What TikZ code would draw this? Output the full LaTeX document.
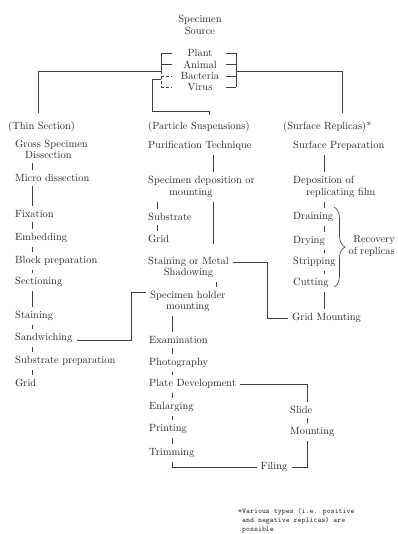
\documentclass[tikz,border=0pt]{standalone}
\usepackage{tikz}
\usetikzlibrary{positioning, calc, decorations.pathreplacing}

\begin{document}
\begin{tikzpicture}[
        x=1bp, y=-1bp,
        txt/.style={anchor=west, align=left, inner sep=1pt, font=\fontsize{10.5}{11.5}\selectfont, text=black!85},
        ctxt/.style={txt, anchor=center, align=center},
        wire/.style={draw=black!75, line width=0.6pt},
        link/.style={wire, shorten <=3bp, shorten >=3bp}
    ]
    \useasboundingbox (0,0) rectangle (397,534);

    % specimen source
    \node[ctxt] (source) at (200,25) {Specimen\\Source};
    \node[ctxt] (plant) at (200,53) {Plant};
    \node[ctxt] (animal) at (200,64.5) {Animal};
    \node[ctxt] (bacteria) at (200,76) {Bacteria};
    \node[ctxt] (virus) at (200,87.5) {Virus};

    \coordinate (lb) at (161,0);
    \coordinate (lt) at (172,0);
    \coordinate (rb) at (236,0);
    \coordinate (rt) at (226,0);
    \coordinate (lj) at (161,71);
    \coordinate (mj) at (152,79);
    \coordinate (mk) at (152,111);
    \coordinate (rj) at (236,71);

    \draw[wire] (plant -| lb) -- (lj);
    \draw[wire, densely dashed] (lj) -- (virus -| lb);
    \draw[wire] (plant -| lb) -- (plant -| lt);
    \draw[wire] (animal -| lb) -- (animal -| lt);
    \draw[wire, densely dashed] (bacteria -| lb) -- (bacteria -| lt);
    \draw[wire, densely dashed] (virus -| lb) -- (virus -| lt);
    \draw[wire] (plant -| rb) -- (virus -| rb);
    \draw[wire] (plant -| rt) -- (plant -| rb);
    \draw[wire] (animal -| rt) -- (animal -| rb);
    \draw[wire] (bacteria -| rt) -- (bacteria -| rb);
    \draw[wire] (virus -| rt) -- (virus -| rb);

    % column heads
    \node[txt] (thin) at (7,127) {(Thin Section)};
    \node[txt] (particle) at (147,127) {(Particle Suspensions)};
    \node[txt] (surface) at (282,127) {(Surface Replicas)*};

    \draw[wire, shorten >=8bp] (lj) -| ([xshift=-3pt]thin.north);
    \draw[wire, shorten >=6bp] (mj -| lb) -- (mj) -- (mk) -| ([xshift=10pt]particle.north);
    \draw[wire, shorten >=8bp] (rj) -| ([xshift=15pt]surface.north);

    % thin section
    \coordinate (ax1) at (32,0);
    \node[txt] (gross) at (14,149.5) {Gross Specimen\\\hspace*{10bp}Dissection};
    \node[txt] (micro) at (14,178) {Micro dissection};
    \node[txt] (fix) at (14,214) {Fixation};
    \node[txt] (embed) at (14,238) {Embedding};
    \node[txt] (block) at (14,261) {Block preparation};
    \node[txt] (sect) at (14,282) {Sectioning};
    \node[txt] (stain) at (14,316) {Staining};
    \node[txt] (sand) at (14,338) {Sandwiching};
    \node[txt] (subprep) at (14,361) {Substrate preparation};
    \node[txt] (grid1) at (14,383) {Grid};

    \draw[link] (gross.south -| ax1) -- (micro.north -| ax1);
    \draw[link] (micro.south -| ax1) -- (fix.north -| ax1);
    \draw[link] (fix.south -| ax1) -- (embed.north -| ax1);
    \draw[link] (embed.south -| ax1) -- (block.north -| ax1);
    \draw[link] (block.south -| ax1) -- (sect.north -| ax1);
    \draw[link] (sect.south -| ax1) -- (stain.north -| ax1);
    \draw[link] (stain.south -| ax1) -- (sand.north -| ax1);
    \draw[link] (sand.south -| ax1) -- (subprep.north -| ax1);
    \draw[link] (subprep.south -| ax1) -- (grid1.north -| ax1);

    % particle suspensions
    \coordinate (ax2) at (213,0);
    \coordinate (ax3) at (157,0);
    \coordinate (ax4) at (216,0);
    \coordinate (ax5) at (172,0);
    \node[txt] (purif) at (147,146) {Purification Technique};
    \node[txt] (depo) at (147,187) {Specimen deposition or\\\hspace*{21bp}mounting};
    \node[txt] (substrate) at (147,217) {Substrate};
    \node[txt] (grid2) at (147,239) {Grid};
    \node[txt, align=center] (stainmetal) at (147,267.5) {Staining or Metal\\Shadowing};
    \node[txt, align=center] (holder) at (149,301.5) {Specimen holder\\mounting};
    \node[txt] (exam) at (148,340) {Examination};
    \node[txt] (photo) at (148,363) {Photography};
    \node[txt] (plate) at (148,384) {Plate Development};
    \node[txt] (enlarge) at (148,407) {Enlarging};
    \node[txt] (print) at (148,429) {Printing};
    \node[txt] (trim) at (148,453) {Trimming};
    \node[ctxt] (filing) at (274,467) {Filing};
    \node[txt] (slide) at (289,410) {Slide};
    \node[txt] (mount) at (289,432) {Mounting};

    \draw[link] (purif.south -| ax2) -- (depo.north -| ax2);
    \draw[link] (depo.south -| ax3) -- (substrate.north -| ax3);
    \draw[link] (substrate.south -| ax3) -- (grid2.north -| ax3);
    \draw[link, shorten >=12bp] (depo.south -| ax2) -- (stainmetal.north -| ax2);
    \draw[link] (stainmetal.south -| ax4) -- (holder.north -| ax4);
    \draw[link] (holder.south -| ax5) -- (exam.north -| ax5);
    \draw[link] (exam.south -| ax5) -- (photo.north -| ax5);
    \draw[link] (photo.south -| ax5) -- (plate.north -| ax5);
    \draw[link] (plate.south -| ax5) -- (enlarge.north -| ax5);
    \draw[link] (enlarge.south -| ax5) -- (print.north -| ax5);
    \draw[link] (print.south -| ax5) -- (trim.north -| ax5);
    \draw[link] (trim.south -| ax5) |- (filing.west);

    \coordinate (ax7) at (307,0);
    \draw[link] (plate.east) -| (slide.north -| ax7);
    \draw[link] (slide.south -| ax7) -- (mount.north -| ax7);
    \draw[link] (mount.south -| ax7) |- (filing.east);

    % surface replicas
    \coordinate (ax6) at (324,0);
    \node[txt] (surfprep) at (292,146) {Surface Preparation};
    \node[txt] (depfilm) at (292,187) {Deposition of\\\hspace*{13bp}replicating film};
    \node[txt] (drain) at (292,217) {Draining};
    \node[txt] (dry) at (292,241) {Drying};
    \node[txt] (strip) at (292,262) {Stripping};
    \node[txt] (cut) at (292,283) {Cutting};
    \node[txt] (gridmount) at (291,318) {Grid Mounting};
    \node[txt, anchor=east, align=right] (recovery) at (396,246) {Recovery\\of replicas};

    \draw[link] (surfprep.south -| ax6) -- (depfilm.north -| ax6);
    \draw[link] (depfilm.south -| ax6) -- (drain.north -| ax6);
    \draw[link] (drain.south -| ax6) -- (dry.north -| ax6);
    \draw[link] (dry.south -| ax6) -- (strip.north -| ax6);
    \draw[link] (strip.south -| ax6) -- (cut.north -| ax6);
    \draw[link] (cut.south -| ax6) -- (gridmount.north -| ax6);
    \draw[wire, decorate, decoration={brace, amplitude=11bp}] (334,207) -- (334,287);

    % cross links
    \coordinate (axg) at (267,0);
    \coordinate (axh) at (131,0);
    \draw[link] ([yshift=5.5pt]stainmetal.east) -- ([yshift=5.5pt]stainmetal.east -| axg) |- (gridmount.west);
    \draw[link] ([yshift=-2pt]sand.east) -- ([yshift=-2pt]sand.east -| axh) |- ([yshift=9.5pt]holder.west);

    % footnote
    \node[anchor=north west, align=left, inner sep=0pt, font=\ttfamily\fontsize{7.5}{9}\selectfont, text=black!85] (note) at (238,508) {*Various types (i.e. positive\\\phantom{*}and negative replicas) are\\\phantom{*}possible};
\end{tikzpicture}
\end{document}
